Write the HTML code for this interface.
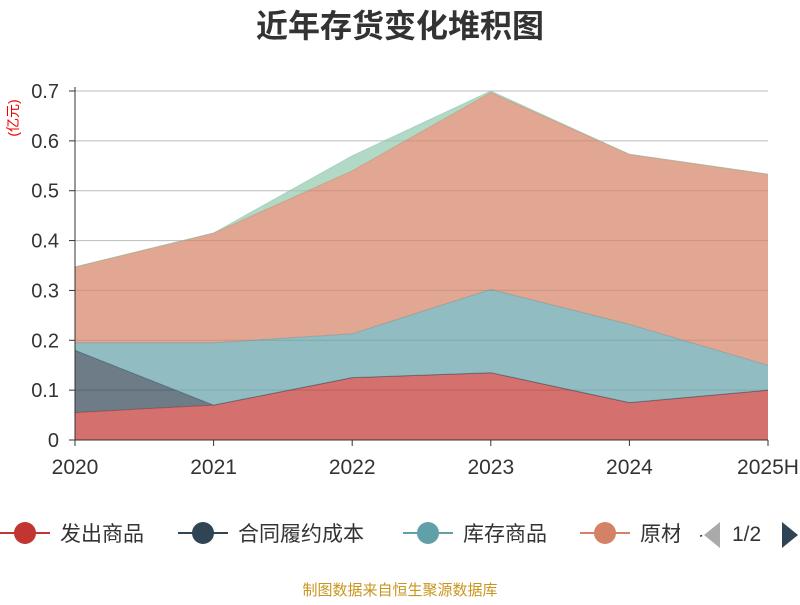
<!DOCTYPE html>
<html><head><meta charset="utf-8"><style>
body{margin:0;background:#fff;width:800px;height:600px;overflow:hidden;font-family:"Liberation Sans","Noto Sans CJK SC",sans-serif}
</style></head><body>
<svg id="c" width="800" height="600" xmlns="http://www.w3.org/2000/svg">
<text x="400" y="37" text-anchor="middle" font-size="32" font-weight="bold" fill="#333" font-family="Liberation Sans, Noto Sans CJK SC, sans-serif">近年存货变化堆积图</text>
<text transform="translate(18,118) rotate(-90)" text-anchor="middle" font-size="14" fill="#e00" font-family="Liberation Sans, Noto Sans CJK SC, sans-serif">(亿元)</text>
<g id="grid"></g><g id="areas"></g><g id="axes"></g>
<g id="legend" font-size="21" fill="#333" font-family="Liberation Sans, Noto Sans CJK SC, sans-serif"></g>
<text x="400" y="595" text-anchor="middle" font-size="15" fill="#c8961e" font-family="Liberation Sans, Noto Sans CJK SC, sans-serif">制图数据来自恒生聚源数据库</text>
</svg>
<script>
const categories=["2020","2021","2022","2023","2024","2025H"];
const seriesNames=["发出商品","合同履约成本","库存商品","原材料","在产品"];
const s1=[0.055,0.07,0.125,0.135,0.075,0.1];
const s2=[0.125,0,0,0,0,0];
const s3=[0.015,0.125,0.088,0.167,0.157,0.05];
const s4=[0.152,0.22,0.327,0.395,0.341,0.383];
const s5=[0,0,0.03,0.003,0,0];
const yTicks=[0,0.1,0.2,0.3,0.4,0.5,0.6,0.7];
const yTickLabels=["0","0.1","0.2","0.3","0.4","0.5","0.6","0.7"];
const colors=["#c23531","#2f4554","#61a0a8","#d48265","#91c7ae"];
const NS="http://www.w3.org/2000/svg";
const x0=75,x1=768,yb=440,yt=91,ymax=0.7;
const X=i=>x0+(x1-x0)*i/(categories.length-1);
const Y=v=>yb-(yb-yt)*v/ymax;
function mk(t,a,p){const e=document.createElementNS(NS,t);for(const k in a)e.setAttribute(k,a[k]);p.appendChild(e);return e;}
const grid=document.getElementById('grid'),axes=document.getElementById('axes'),areas=document.getElementById('areas'),legend=document.getElementById('legend');
yTicks.forEach((v,i)=>{
 if(v>0){const l=mk('line',{x1:x0,x2:x1,y1:Y(v),y2:Y(v),stroke:'#bbb'},grid);}
 const t=mk('text',{x:x0-16,y:Y(v)+7,'text-anchor':'end','font-size':20,fill:'#333'},axes);t.textContent=yTickLabels[i];
 
 mk('line',{x1:x0-6,x2:x0,y1:Y(v),y2:Y(v),stroke:'#333'},axes);
});
const all=[s1,s2,s3,s4,s5];let base=categories.map(()=>0);
all.forEach((s,k)=>{
 const top=s.map((v,i)=>base[i]+v);
 let d='M'+categories.map((c,i)=>X(i)+','+Y(top[i])).join('L');
 for(let i=categories.length-1;i>=0;i--)d+='L'+X(i)+','+Y(base[i]);
 const p=mk('path',{d:d+'Z',fill:colors[k],'fill-opacity':0.7,stroke:'none'},areas);
 
 mk('polyline',{points:categories.map((c,i)=>X(i)+','+Y(top[i])).join(' '),fill:'none',stroke:colors[k],'stroke-opacity':0.6,'stroke-width':1},areas);
 base=top;
});
mk('line',{x1:x0,x2:x0,y1:yt-4,y2:yb,stroke:'#333'},axes);
mk('line',{x1:x0,x2:x1,y1:yb,y2:yb,stroke:'#333'},axes);
categories.forEach((c,i)=>{
 mk('line',{x1:X(i),x2:X(i),y1:yb,y2:yb+6,stroke:'#333'},axes);
 const t=mk('text',{x:X(i),y:yb+34,'text-anchor':'middle','font-size':21,fill:'#333'},axes);t.textContent=c;
 
});
const lx=[0,178,403,580];
for(let k=0;k<4;k++){
 const g=mk('g',{},legend);
 mk('line',{x1:lx[k],x2:lx[k]+50,y1:533,y2:533,stroke:colors[k],'stroke-width':2},g);
 mk('circle',{cx:lx[k]+25,cy:533,r:11,fill:colors[k]},g);
 const t=mk('text',{x:lx[k]+60,y:541},g);t.textContent=seriesNames[k];
}
const cp=mk('rect',{x:680,y:505,width:20,height:50,fill:'#fff'},legend);
const pv=mk('polygon',{points:'720,522 720,548 704,535',fill:'#aaa'},legend);
const pt=mk('text',{x:732,y:541},legend);pt.textContent='1/2';
const nx=mk('polygon',{points:'782,522 782,548 798,535',fill:'#2f4554'},legend);
</script>
</body></html>
